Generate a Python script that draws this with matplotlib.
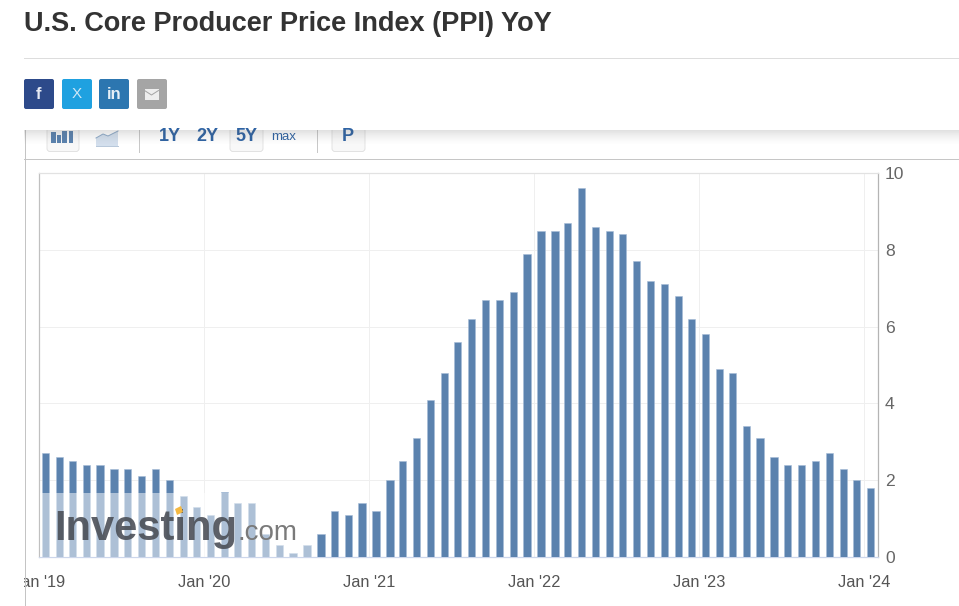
import numpy as np
import pandas as pd
import matplotlib
matplotlib.use("Agg")
import matplotlib.pyplot as plt
from matplotlib.patches import Rectangle, FancyBboxPatch, Polygon

TITLE = "U.S. Core Producer Price Index (PPI) YoY"
ppi_2019 = [2.7, 2.6, 2.5, 2.4, 2.4, 2.3, 2.3, 2.1, 2.3, 2.0, 1.6, 1.3]
ppi_2020 = [1.1, 1.7, 1.4, 1.4, 0.6, 0.3, 0.1, 0.3, 0.6, 1.2, 1.1, 1.4]
ppi_2021 = [1.2, 2.0, 2.5, 3.1, 4.1, 4.8, 5.6, 6.2, 6.7, 6.7, 6.9, 7.9]
ppi_2022 = [8.5, 8.5, 8.7, 9.6, 8.6, 8.5, 8.4, 7.7, 7.2, 7.1, 6.8, 6.2]
ppi_2023 = [5.8, 4.9, 4.8, 3.4, 3.1, 2.6, 2.4, 2.4, 2.5, 2.7, 2.3, 2.0]
ppi_2024 = [1.8]
values = ppi_2019 + ppi_2020 + ppi_2021 + ppi_2022 + ppi_2023 + ppi_2024
months = pd.date_range("2019-01-16", periods=len(values), freq=pd.DateOffset(months=1))
x_tick_dates = pd.to_datetime(["2019-01-01", "2020-01-01", "2021-01-01",
                               "2022-01-01", "2023-01-01", "2024-01-01"])
x_tick_labels = ["Jan '19", "Jan '20", "Jan '21", "Jan '22", "Jan '23", "Jan '24"]
y_ticks = [0, 2, 4, 6, 8, 10]

W, H = 959, 606
PX = 0.72
plt.rcParams["font.family"] = ["Liberation Sans", "DejaVu Sans"]
fig = plt.figure(figsize=(W / 100, H / 100), dpi=100, facecolor="white")

L, R, T, B = 39, 878, 173, 557
ax = fig.add_axes([L / W, 1 - B / H, (R - L) / W, (B - T) / H], zorder=1)
ax.bar(months, values, width=16.0, color="#5b82ae", edgecolor="#a6bcd6",
       linewidth=0.4, zorder=3)
ax.set_xlim(pd.Timestamp("2019-01-01"), pd.Timestamp("2024-02-01"))
ax.set_ylim(0, 10)
ax.set_xticks(x_tick_dates)
ax.set_xticklabels(x_tick_labels, fontsize=11.8, color="#555555")
ax.yaxis.tick_right()
ax.set_yticks(y_ticks)
ax.tick_params(axis="y", length=0, labelsize=12.6, labelcolor="#666666", pad=5)
ax.tick_params(axis="x", length=0, labelsize=11.8, labelcolor="#555555", pad=13)
ax.grid(True, color="#efefef", linewidth=PX, zorder=0)
ax.set_axisbelow(True)
ax.spines["left"].set_color("#c0c0c0")
ax.spines["right"].set_color("#b4b4b4")
ax.spines["top"].set_color("#e2e2e2")
ax.spines["bottom"].set_color("#ccd6eb")
for s in ax.spines.values():
    s.set_linewidth(0.9)

# page overlay in pixel coordinates
pg = fig.add_axes([0, 0, 1, 1], zorder=5)
pg.set_xlim(0, W)
pg.set_ylim(H, 0)
pg.axis("off")
pg.patch.set_alpha(0)

# watermark veil + logo
pg.add_patch(Rectangle((39.5, 493), 273, 63.5, facecolor="white", alpha=0.5,
                       edgecolor="none", zorder=2))
pg.text(54, 540, "Investing", fontsize=30, fontweight="bold", color="#4b4f57",
        alpha=0.9, va="baseline", ha="left", zorder=3)
pg.text(237.5, 540, ".com", fontsize=20, color="#7a7a7a", va="baseline", ha="left", zorder=3)
pg.add_patch(Polygon([(175, 509), (181, 506), (183, 512), (177, 515)], closed=True,
                     facecolor="#f5b942", edgecolor="none", zorder=4))

# left page margin hiding the clipped first label
pg.add_patch(Rectangle((0, 560), 24, 46, facecolor="white", edgecolor="none", zorder=6))

# title & rule
pg.text(24, 24, TITLE, fontsize=19.5, fontweight="bold", color="#333333",
        va="center", ha="left", zorder=9)
pg.plot([24, W], [57.5, 57.5], color="#dddddd", lw=PX, zorder=9)

# share buttons
btns = [(24, "#2d4a8a"), (62, "#1fa1e0"), (99, "#2c76b0"), (137, "#a5a5a5")]
for bx, col in btns:
    pg.add_patch(FancyBboxPatch((bx + 1.5, 80.5), 27, 27, boxstyle="round,pad=1.5,rounding_size=2",
                                facecolor=col, edgecolor="none", zorder=9))
pg.text(39, 94.5, "f", fontsize=12, fontweight="bold", color="#e8ecf5", ha="center", va="center", zorder=10)
pg.text(76.5, 94.5, "X", fontsize=11, color="#cfe8f7", ha="center", va="center", zorder=10)
pg.text(114.5, 94.5, "in", fontsize=12, fontweight="bold", color="#e6eff7", ha="center", va="center", zorder=10)
pg.add_patch(Rectangle((144.5, 89), 14, 11, facecolor="#eeeeee", edgecolor="none", zorder=10))
pg.plot([144.5, 151.5, 158.5], [90.5, 95, 90.5], color="#a5a5a5", lw=PX, zorder=11)

# toolbar card
pg.plot([24.5, 24.5], [130, H], color="#c4c4c4", lw=PX, zorder=7)
pg.plot([24, W], [158.5, 158.5], color="#c6c6c6", lw=PX, zorder=7)
clip = Rectangle((0, 130), W, 40, transform=pg.transData)
for x0, x1 in [(47, 79), (230, 263), (332, 365)]:
    p = FancyBboxPatch((x0 + 2, 120), x1 - x0 - 4, 29.5, boxstyle="round,pad=2,rounding_size=3",
                       facecolor="#f8f8f8", edgecolor="#dedede", lw=0.6, zorder=7)
    pg.add_patch(p)
    p.set_clip_path(clip)
for sx in (138.5, 316.5):
    pg.plot([sx, sx], [130, 152], color="#c8c8c8", lw=PX, zorder=7)
for bx, tp in [(51, 132), (56.5, 135), (62, 131), (68.5, 131)]:
    pg.add_patch(Rectangle((bx, tp), 4.6, 143 - tp, facecolor="#5b82ae", edgecolor="none", zorder=8))
pg.add_patch(Polygon([(96, 138), (103, 134), (108, 136), (118, 131), (118, 146), (96, 146)],
                     closed=True, facecolor="#d3dfed", edgecolor="none", zorder=8))
pg.plot([96, 103, 108, 118], [138, 134, 136, 131], color="#8fabc9", lw=PX, zorder=8)
pg.plot([96, 118], [145.5, 145.5], color="#b8c8da", lw=PX, zorder=8)
for tx, lbl, fs in [(169.5, "1Y", 13), (207, "2Y", 13), (246, "5Y", 13),
                    (284, "max", 9.5), (348, "P", 13)]:
    t = pg.text(tx, 141 if fs > 10 else 139.5, lbl, fontsize=fs, fontweight="bold" if fs > 10 else "normal",
                color="#2f63a3", ha="center", va="baseline", zorder=8)
    t.set_clip_path(clip)

# shadow under sticky header
grad = np.zeros((20, 2, 4))
grad[..., :3] = 0.35
grad[..., 3] = (np.linspace(0.32, 0, 20) ** 1.5)[:, None]
pg.imshow(grad, extent=[24, W, 146, 130], aspect="auto", zorder=8.5, interpolation="bilinear")
pg.set_xlim(0, W)
pg.set_ylim(H, 0)

fig.savefig("out.png", dpi=100, facecolor="white")
